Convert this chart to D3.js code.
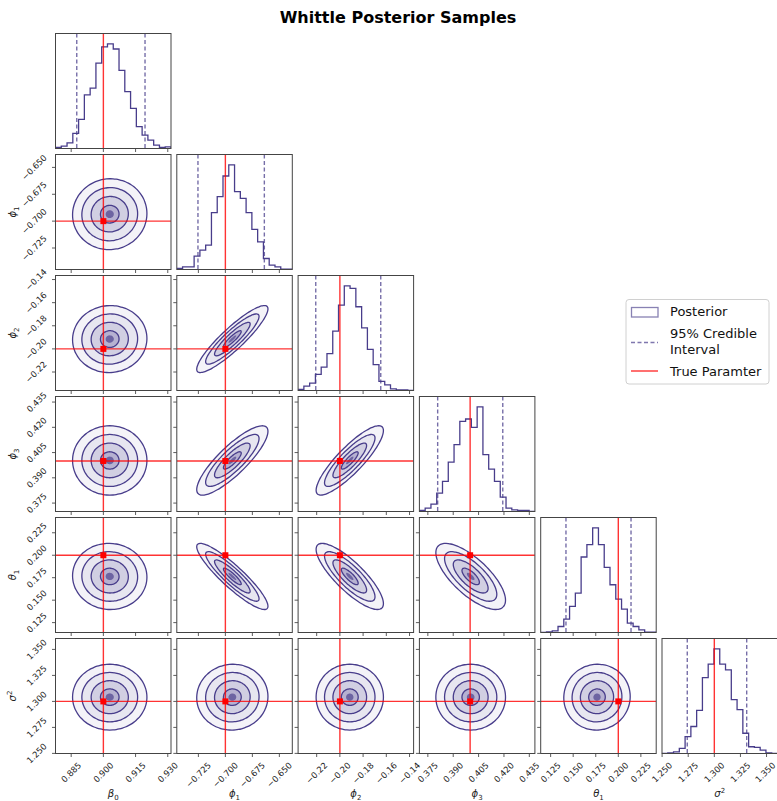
<!DOCTYPE html>
<html>
<head>
<meta charset="utf-8">
<script src="https://cdn.jsdelivr.net/npm/d3@7"></script>
<style>
  body { margin: 0; background: #fff; }
  text { font-family: "DejaVu Sans", sans-serif; }
</style>
</head>
<body>
<svg id="chart" width="777" height="801"></svg>
<script>
// --- data ---
const labelBase = ["β", "ϕ", "ϕ", "ϕ", "θ", "σ"];
const labelSub = ["0", "1", "2", "3", "1", ""];
const labelSup = ["", "", "", "", "", "2"];
const trueValues = [0.900, -0.700, -0.200, 0.400, 0.200, 1.300];
const ranges = [
  [0.8777, 0.9315], [-0.745, -0.638], [-0.236, -0.1365],
  [0.370, 0.4383], [0.114, 0.242], [1.2499, 1.3605]
];
const tickValues = [
  [0.885, 0.900, 0.915, 0.930],
  [-0.725, -0.700, -0.675, -0.650],
  [-0.22, -0.20, -0.18, -0.16, -0.14],
  [0.375, 0.390, 0.405, 0.420, 0.435],
  [0.125, 0.150, 0.175, 0.200, 0.225],
  [1.250, 1.275, 1.300, 1.325, 1.350]
];
const tickFormats = [".3f", ".3f", ".2f", ".3f", ".3f", ".3f"];
const credible = [
  [0.8876, 0.9194], [-0.7254, -0.6639], [-0.2208, -0.1648],
  [0.3808, 0.4193], [0.1420, 0.2141], [1.2741, 1.3310]
];
// 20-bin histogram heights for each parameter
const histBeta0  = [3, 7, 17, 45, 87, 160, 180, 255, 303, 312, 297, 233, 170, 120, 65, 40, 25, 10, 3, 5];
const histPhi1   = [3, 8, 8, 40, 58, 73, 170, 218, 280, 313, 233, 213, 170, 120, 83, 33, 13, 8, 1, 1];
const histPhi2   = [3, 13, 22, 48, 70, 110, 177, 255, 312, 305, 250, 187, 123, 77, 27, 17, 5, 2, 2, 0];
const histPhi3   = [3, 10, 22, 55, 90, 148, 200, 270, 277, 252, 313, 170, 127, 90, 43, 10, 5, 3, 3, 0];
const histTheta1 = [0, 2, 5, 18, 40, 78, 118, 226, 263, 313, 263, 195, 143, 100, 70, 28, 18, 8, 1, 1];
const histSigma2 = [0, 2, 5, 15, 50, 80, 128, 225, 265, 310, 265, 248, 160, 130, 60, 20, 18, 10, 2, 0];
const histograms = [histBeta0, histPhi1, histPhi2, histPhi3, histTheta1, histSigma2];
// pairwise correlation (row parameter vs column parameter), lower triangle
const correlations = [
  [],
  [0.02],
  [0.02, 0.90],
  [0.00, 0.84, 0.86],
  [-0.02, -0.90, -0.82, -0.72],
  [0.00, 0.02, 0.00, 0.00, 0.02]
];
const contourLevels = [2, 1.5, 1, 0.5];

// --- layout ---
const svg = d3.select("#chart");
const nP = histograms.length;
const left0 = 55.5, top0 = 33.5, colStep = 121.3, rowStep = 121, panelW = 115.5, panelH = 115;
const mainColor = "#483d8b";
const shade = d3.interpolateRgb("#ffffff", mainColor);
const defs = svg.append("defs");

const xScales = ranges.map((r, i) => d3.scaleLinear().domain(r).range([left0 + i * colStep, left0 + i * colStep + panelW]));
const yScales = ranges.map((r, j) => d3.scaleLinear().domain(r).range([top0 + j * rowStep + panelH, top0 + j * rowStep]));

// mean / sd from histogram heights
const stats = histograms.map((counts, p) => {
  const r = ranges[p];
  const w = (r[1] - r[0]) / counts.length;
  const mids = counts.map((c, k) => r[0] + (k + 0.5) * w);
  const tot = d3.sum(counts);
  const mean = d3.sum(counts, (c, k) => c * mids[k]) / tot;
  const sd = Math.sqrt(d3.sum(counts, (c, k) => c * (mids[k] - mean) ** 2) / tot);
  return { mean, sd: sd * 1.07 };
});

function ellipsePoints(i, j, rad) {
  const rho = correlations[j][i];
  const sx = stats[i].sd, sy = stats[j].sd;
  return d3.range(0, 72).map(k => {
    const t = k / 72 * 2 * Math.PI;
    const u = Math.cos(t), v = Math.sin(t);
    return [stats[i].mean + rad * sx * u, stats[j].mean + rad * sy * (rho * u + Math.sqrt(1 - rho * rho) * v)];
  });
}

for (let j = 0; j < nP; j++) {
  for (let i = 0; i <= j; i++) {
    const xs = xScales[i];
    const x0 = xs.range()[0], y0 = top0 + j * rowStep;
    const clipId = `clip-${i}-${j}`;
    defs.append("clipPath").attr("id", clipId)
      .append("rect").attr("x", x0).attr("y", y0).attr("width", panelW).attr("height", panelH);
    const g = svg.append("g");
    const inner = g.append("g").attr("clip-path", `url(#${clipId})`);

    if (i === j) {
      // --- 1D histogram ---
      const counts = histograms[i];
      const r = ranges[i];
      const hy = d3.scaleLinear().domain([0, 1.1 * d3.max(counts)]).range([y0 + panelH, y0]);
      const bw = (r[1] - r[0]) / counts.length;
      const pts = [[r[0], 0]];
      counts.forEach((c, k) => { pts.push([r[0] + k * bw, c]); pts.push([r[0] + (k + 1) * bw, c]); });
      pts.push([r[1], 0]);
      inner.append("path")
        .attr("d", d3.line().x(d => xs(d[0])).y(d => hy(d[1]))(pts))
        .attr("fill", "none").attr("stroke", mainColor).attr("stroke-width", 1.3);
      inner.selectAll(".ci").data(credible[i]).enter().append("line")
        .attr("x1", d => xs(d)).attr("x2", d => xs(d))
        .attr("y1", y0).attr("y2", y0 + panelH)
        .attr("stroke", mainColor).attr("stroke-opacity", 0.75)
        .attr("stroke-width", 1.4).attr("stroke-dasharray", "4,2.5");
      inner.append("line")
        .attr("x1", xs(trueValues[i])).attr("x2", xs(trueValues[i]))
        .attr("y1", y0).attr("y2", y0 + panelH)
        .attr("stroke", "red").attr("stroke-opacity", 0.8).attr("stroke-width", 1.4);
    } else {
      // --- 2D density contours ---
      const ys = yScales[j];
      const line = d3.line().x(d => xs(d[0])).y(d => ys(d[1])).curve(d3.curveCardinalClosed);
      const fills = [0.06, 0.13, 0.25, 0.4];
      contourLevels.forEach((rad, k) => {
        inner.append("path").attr("d", line(ellipsePoints(i, j, rad)))
          .attr("fill", shade(fills[k])).attr("stroke", "none");
      });
      inner.append("path").attr("d", line(ellipsePoints(i, j, 0.22)))
        .attr("fill", shade(0.8)).attr("stroke", "none");
      contourLevels.forEach(rad => {
        inner.append("path").attr("d", line(ellipsePoints(i, j, rad)))
          .attr("fill", "none").attr("stroke", mainColor).attr("stroke-width", 1.3);
      });
      const tx = xs(trueValues[i]), ty = ys(trueValues[j]);
      inner.append("line").attr("x1", tx).attr("x2", tx).attr("y1", y0).attr("y2", y0 + panelH)
        .attr("stroke", "red").attr("stroke-opacity", 0.8).attr("stroke-width", 1.4);
      inner.append("line").attr("x1", x0).attr("x2", x0 + panelW).attr("y1", ty).attr("y2", ty)
        .attr("stroke", "red").attr("stroke-opacity", 0.8).attr("stroke-width", 1.4);
      inner.append("rect").attr("x", tx - 3).attr("y", ty - 3).attr("width", 6).attr("height", 6)
        .attr("fill", "red");

      // y ticks
      g.selectAll(".yt").data(tickValues[j]).enter().append("line")
        .attr("x1", x0).attr("x2", x0 - 3.5)
        .attr("y1", d => ys(d)).attr("y2", d => ys(d))
        .attr("stroke", "#333").attr("stroke-width", 0.8);
      if (i === 0) {
        const fmt = d3.format(tickFormats[j]);
        tickValues[j].forEach(v => {
          const t = g.append("text").text(fmt(v))
            .attr("font-size", 8.5).attr("fill", "#222")
            .attr("text-anchor", "middle").attr("dominant-baseline", "central");
          const w = t.node().getComputedTextLength();
          const half = (w + 9) * 0.7071 / 2;
          t.attr("transform", `translate(${x0 - 7 - half},${ys(v)}) rotate(-45)`);
        });
      }
    }

    // x ticks
    g.selectAll(".xt").data(tickValues[i]).enter().append("line")
      .attr("x1", d => xs(d)).attr("x2", d => xs(d))
      .attr("y1", y0 + panelH).attr("y2", y0 + panelH + 3.5)
      .attr("stroke", "#333").attr("stroke-width", 0.8);
    if (j === nP - 1) {
      const fmt = d3.format(tickFormats[i]);
      tickValues[i].forEach(v => {
        const t = g.append("text").text(fmt(v))
          .attr("font-size", 8.5).attr("fill", "#222")
          .attr("text-anchor", "middle").attr("dominant-baseline", "central");
        const w = t.node().getComputedTextLength();
        const half = (w + 9) * 0.7071 / 2;
        const cx = Math.min(xs(v), 776 - (w + 6) * 0.7071 / 2);
        t.attr("transform", `translate(${cx},${y0 + panelH + 7 + half}) rotate(-45)`);
      });
    }

    // frame
    g.append("rect").attr("x", x0).attr("y", y0).attr("width", panelW).attr("height", panelH)
      .attr("fill", "none").attr("stroke", "#444").attr("stroke-width", 1);
  }
}

// --- axis labels ---
function addLabel(sel, p) {
  sel.append("tspan").attr("font-style", "italic").text(labelBase[p]);
  if (labelSub[p]) sel.append("tspan").attr("font-size", 7).attr("dy", 2.5).text(labelSub[p]);
  if (labelSup[p]) sel.append("tspan").attr("font-size", 7).attr("dy", -4).text(labelSup[p]);
}
for (let p = 0; p < nP; p++) {
  const cx = left0 + p * colStep + panelW / 2;
  addLabel(svg.append("text").attr("x", cx).attr("y", 797)
    .attr("text-anchor", "middle").attr("font-size", 10).attr("fill", "#222"), p);
  if (p > 0) {
    const cy = top0 + p * rowStep + panelH / 2;
    addLabel(svg.append("text").attr("transform", `translate(16,${cy}) rotate(-90)`)
      .attr("text-anchor", "middle").attr("font-size", 10).attr("fill", "#222"), p);
  }
}

// --- title ---
svg.append("text").attr("x", 398).attr("y", 23).attr("text-anchor", "middle")
  .attr("font-size", 16).attr("font-weight", "bold").attr("fill", "#000")
  .text("Whittle Posterior Samples");

// --- legend ---
const legend = svg.append("g");
legend.append("rect").attr("x", 626).attr("y", 299.5).attr("width", 143).attr("height", 84.5)
  .attr("rx", 3).attr("fill", "#fff").attr("stroke", "#d0d0d0").attr("stroke-width", 1);
legend.append("rect").attr("x", 631.5).attr("y", 307.5).attr("width", 26.5).attr("height", 9.5)
  .attr("fill", "none").attr("stroke", mainColor).attr("stroke-opacity", 0.65).attr("stroke-width", 1.3);
legend.append("line").attr("x1", 631).attr("x2", 658).attr("y1", 342.5).attr("y2", 342.5)
  .attr("stroke", mainColor).attr("stroke-opacity", 0.7).attr("stroke-width", 1.4).attr("stroke-dasharray", "4,2.5");
legend.append("line").attr("x1", 631).attr("x2", 658).attr("y1", 371).attr("y2", 371)
  .attr("stroke", "red").attr("stroke-opacity", 0.75).attr("stroke-width", 1.5);
const legendText = [["Posterior", 315.5], ["95% Credible", 338], ["Interval", 354], ["True Paramter", 375.5]];
legend.selectAll(".lt").data(legendText).enter().append("text")
  .attr("x", 670).attr("y", d => d[1]).attr("font-size", 13).attr("fill", "#111").text(d => d[0]);
</script>
</body>
</html>
